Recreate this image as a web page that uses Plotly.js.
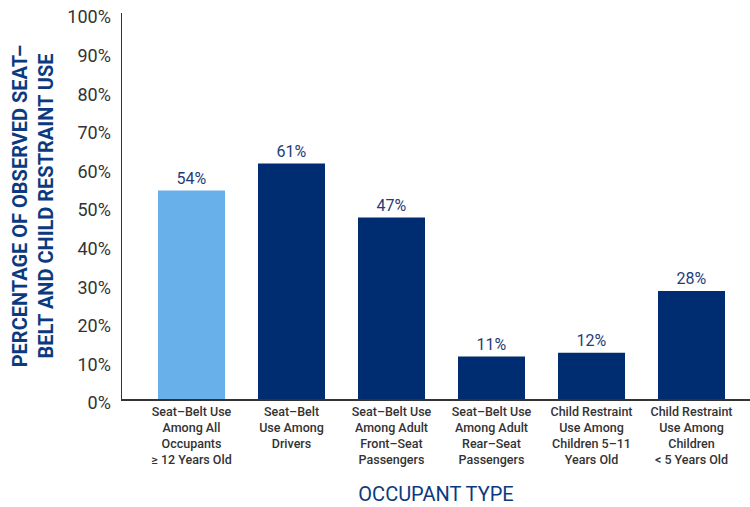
<!DOCTYPE html>
<html><head><meta charset="utf-8">
<script src="https://cdn.plot.ly/plotly-3.0.1.min.js"></script>
<style>body{margin:0;}#chart{width:750px;height:507px;}</style>
</head><body><div id="chart"></div>
<script>
const categories = [
  "Seat–Belt Use<br>Among All<br>Occupants<br>≥ 12 Years Old",
  "Seat–Belt<br>Use Among<br>Drivers",
  "Seat–Belt Use<br>Among Adult<br>Front–Seat<br>Passengers",
  "Seat–Belt Use<br>Among Adult<br>Rear–Seat<br>Passengers",
  "Child Restraint<br>Use Among<br>Children 5–11<br>Years Old",
  "Child Restraint<br>Use Among<br>Children<br>< 5 Years Old"
];
const values = [54, 61, 47, 11, 12, 28];
const barColors = ["#68b0ea", "#002d72", "#002d72", "#002d72", "#002d72", "#002d72"];
const yTickVals = [0,10,20,30,40,50,60,70,80,90,100];
const yTickText = yTickVals.map(v => v + "%");

const trace = {
  type: "bar",
  x: categories.map((c,i)=>i),
  y: values,
  marker: {color: barColors},
  text: values.map(v => v + "%"),
  textposition: "outside",
  cliponaxis: false,
  textfont: {family: "Roboto, sans-serif", size: 16, color: "#1f3c7a"},
  hoverinfo: "none"
};

const layout = {
  width: 750, height: 507,
  margin: {l: 122, r: 0, t: 13, b: 108},
  paper_bgcolor: "#ffffff", plot_bgcolor: "#ffffff",
  bargap: 0.33,
  showlegend: false,
  font: {family: "Roboto, sans-serif"},
  xaxis: {
    range: [-0.695, 5.585],
    tickvals: categories.map((c,i)=>i),
    ticktext: categories,
    tickfont: {family: "Roboto, sans-serif", size: 12.5, color: "#333333", weight: 500},
    showgrid: false, zeroline: false,
    showline: true, linecolor: "#333333", linewidth: 1.5,
    ticks: "",
    title: {text: "OCCUPANT TYPE", font: {family: "Roboto, sans-serif", size: 20, color: "#0b3a80"}, standoff: 20},
    automargin: false
  },
  yaxis: {
    range: [0, 100],
    tickvals: yTickVals,
    ticktext: yTickText,
    tickfont: {family: "Roboto, sans-serif", size: 18, color: "#333333"},
    showgrid: false, zeroline: false,
    showline: true, linecolor: "#333333", linewidth: 1.5,
    ticks: "", ticklabelstandoff: 6, ticklabelshift: 4,
    title: {text: "PERCENTAGE OF OBSERVED SEAT–<br>BELT AND CHILD RESTRAINT USE", font: {family: "Roboto, sans-serif", size: 20, color: "#0b3a80", weight: 700}, standoff: 8},
    automargin: false
  }
};

Plotly.newPlot("chart", [trace], layout, {displayModeBar: false, staticPlot: true});
</script>
</body></html>
